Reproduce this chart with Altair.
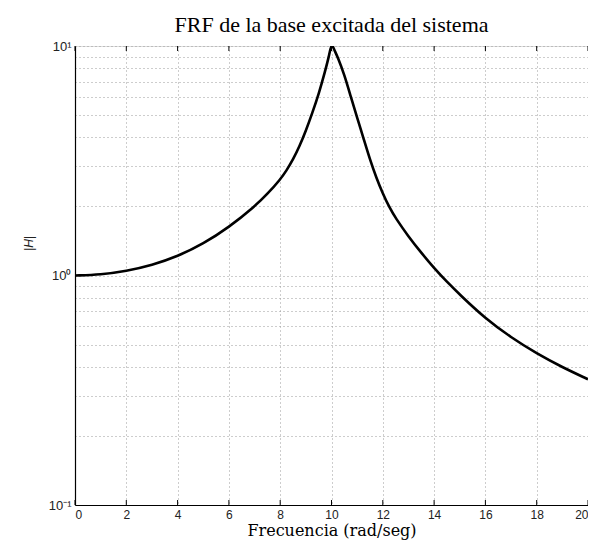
import altair as alt
import pandas as pd

freq = [0, 1, 2, 3, 4, 5, 6, 7, 7.5, 8, 8.25, 8.5, 8.75, 9.0, 9.25, 9.5, 9.75,
        9.9, 10.0, 10.1, 10.25, 10.5, 10.75, 11.0, 11.25, 11.5, 11.75, 12.0,
        12.25, 12.5, 13.0, 13.5, 14.0, 14.5, 15, 16, 17, 18, 19, 20]
mag = [1.000, 1.009, 1.045, 1.109, 1.211, 1.374, 1.622, 1.995, 2.265, 2.618,
       2.871, 3.199, 3.648, 4.266, 5.105, 6.166, 7.762, 9.016, 10.3, 9.66,
       8.913, 7.499, 6.026, 4.875, 3.954, 3.199, 2.661, 2.275, 1.986, 1.778,
       1.479, 1.256, 1.076, 0.938, 0.826, 0.649, 0.537, 0.457, 0.398, 0.353]

x_ticks = [0, 2, 4, 6, 8, 10, 12, 14, 16, 18, 20]
y_grid = [0.1, 0.2, 0.3, 0.4, 0.5, 0.6, 0.7, 0.8, 0.9, 1, 2, 3, 4, 5, 6, 7, 8, 9, 10]

df = pd.DataFrame({"f": freq, "h": mag})
tick_df = pd.DataFrame({"t": x_ticks})

W, H = 513, 459

xscale = alt.Scale(domain=[0, 20], nice=False, zero=False)
yscale = alt.Scale(type="log", domain=[0.1, 10], nice=False)

line = alt.Chart(df).mark_line(color="black", strokeWidth=2.6, interpolate="basis", clip=True).encode(
    x=alt.X("f:Q", scale=xscale,
            axis=alt.Axis(values=x_ticks, title="Frecuencia (rad/seg)", grid=True,
                          gridDash=[1, 3], gridColor="#9a9a9a", gridWidth=1,
                          ticks=False, labelPadding=4,
                          labelFont="Liberation Sans", labelFontSize=12, labelColor="#222",
                          titleFont="DejaVu Serif", titleFontSize=16, titleFontWeight="normal",
                          titleColor="black", titlePadding=2,
                          domainColor="black", domainWidth=1.2)),
    y=alt.Y("h:Q", scale=yscale,
            axis=alt.Axis(values=y_grid, title="|H|", grid=True,
                          gridDash=[1, 3], gridColor="#9a9a9a", gridWidth=1,
                          ticks=False, labelPadding=4,
                          labelExpr="datum.value == 10 ? '10¹' : datum.value == 1 ? '10⁰' : datum.value == 0.1 ? '10⁻¹' : ''",
                          labelFont="Liberation Sans", labelFontSize=13, labelColor="#222",
                          titleFont="Liberation Sans", titleFontSize=12, titleFontWeight="normal",
                          titleFontStyle="italic",
                          titleColor="#222", titleX=-40, titleY=197,
                          domainColor="black", domainWidth=1.2)),
)

ticks_bottom = alt.Chart(tick_df).mark_rule(color="black", strokeWidth=1).encode(
    x=alt.X("t:Q", scale=xscale), y=alt.value(H), y2=alt.value(H - 5))
ticks_top = alt.Chart(tick_df).mark_rule(color="black", strokeWidth=1).encode(
    x=alt.X("t:Q", scale=xscale), y=alt.value(0), y2=alt.value(5))

chart = alt.layer(line, ticks_bottom, ticks_top).properties(
    width=W, height=H,
    title=alt.Title("FRF de la base excitada del sistema", font="Liberation Serif",
                    fontSize=22, fontWeight="normal", color="black", offset=3),
    autosize=alt.AutoSizeParams(type="none"),
    padding={"left": 67, "top": 38, "right": 0, "bottom": 40},
).configure_view(stroke="black", strokeWidth=1.2).configure(background="white")

chart.save("out.html", embed_options={"renderer": "svg", "actions": False})
